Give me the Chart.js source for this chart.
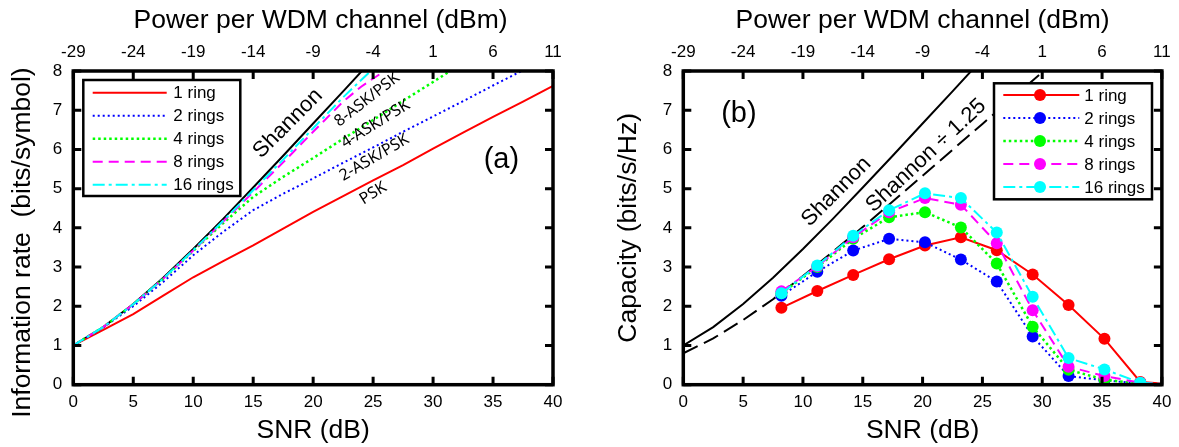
<!DOCTYPE html>
<html>
<head>
<meta charset="utf-8">
<script src="https://cdn.jsdelivr.net/npm/chart.js@4.4.0/dist/chart.umd.min.js"></script>
<style>
  body { margin: 0; background: #fff; width: 1179px; height: 447px; overflow: hidden; position: relative; }
  .panel { position: absolute; top: 0; height: 447px; }
  #panelA { left: 0; width: 595px; }
  #panelB { left: 595px; width: 584px; }
</style>
</head>
<body>
<div class="panel" id="panelA"><canvas id="chartA" width="595" height="447"></canvas></div>
<div class="panel" id="panelB"><canvas id="chartB" width="584" height="447"></canvas></div>
<script>
// --- Ticks ---
const snrTicks = [0, 5, 10, 15, 20, 25, 30, 35, 40];
const powerTicks = [-29, -24, -19, -14, -9, -4, 1, 6, 11];
const rateTicks = [0, 1, 2, 3, 4, 5, 6, 7, 8];
const ringLabels = ['1 ring', '2 rings', '4 rings', '8 rings', '16 rings'];

// --- (a) information rate vs SNR ---
const snrA = [0, 2.5, 5, 7.5, 10, 12.5, 15, 17.5, 20, 22.5, 25, 27.5, 30, 32.5, 35, 37.5, 40];
const shannonA = [1.00, 1.47, 2.06, 2.73, 3.46, 4.23, 5.03, 5.84, 6.66, 7.48, 8.31];
const ring1A = [1.00, 1.40, 1.80, 2.27, 2.74, 3.15, 3.55, 3.98, 4.41, 4.81, 5.21, 5.60, 6.02, 6.43, 6.83, 7.22, 7.62];
const ring2A = [1.00, 1.46, 2.00, 2.62, 3.30, 3.90, 4.45, 4.87, 5.26, 5.66, 6.05, 6.45, 6.84, 7.23, 7.63, 8.02];
const ring4A = [1.00, 1.47, 2.05, 2.70, 3.41, 4.12, 4.79, 5.30, 5.78, 6.27, 6.75, 7.24, 7.72, 8.21];
const snr8A = [0, 2.5, 5, 7.5, 10, 12.5, 15, 17.5, 20, 22.5, 24, 25.8];
const ring8A = [1.00, 1.47, 2.05, 2.70, 3.42, 4.16, 4.91, 5.67, 6.45, 7.22, 7.60, 7.97];
const ring16A = [1.00, 1.47, 2.05, 2.71, 3.43, 4.18, 4.96, 5.74, 6.54, 7.33, 8.06];

// --- (b) capacity vs SNR ---
const snrB = [8.2, 11.2, 14.2, 17.2, 20.2, 23.2, 26.2, 29.2, 32.2, 35.2, 38.2, 41.2];
const shannonB = [1.00, 1.47, 2.06, 2.73, 3.46, 4.23, 5.03, 5.84, 6.66, 7.48, 8.31];
const shannonScaledB = [0.80, 1.18, 1.65, 2.18, 2.77, 3.39, 4.02, 4.67, 5.33, 5.99, 6.65, 7.31, 7.97, 8.63];
const ring1B = [1.96, 2.39, 2.80, 3.20, 3.55, 3.76, 3.43, 2.81, 2.03, 1.17, 0.07, 0.00];
const ring2B = [2.27, 2.88, 3.42, 3.72, 3.63, 3.19, 2.63, 1.23, 0.22, 0.11, 0.03, 0.00];
const ring4B = [2.33, 3.00, 3.72, 4.27, 4.40, 4.01, 3.09, 1.48, 0.38, 0.13, 0.02, 0.00];
const ring8B = [2.38, 3.02, 3.76, 4.40, 4.76, 4.59, 3.61, 1.90, 0.46, 0.22, 0.05, 0.00];
const ring16B = [2.33, 3.04, 3.80, 4.45, 4.88, 4.76, 3.88, 2.24, 0.68, 0.39, 0.05, 0.00];

// --- Texto dentro de las gráficas (posición en unidades de datos) ---
const notesA = [
    { text: 'Shannon', x: 17.9, y: 6.66, angle: -45, font: '22px "Liberation Sans", Arial' },
    { text: '8-ASK/PSK', x: 24.5, y: 7.27, angle: -37.7, font: '16px "Noto Sans"' },
    { text: '4-ASK/PSK', x: 25.2, y: 6.65, angle: -31.7, font: '16px "Noto Sans"' },
    { text: '2-ASK/PSK', x: 25.1, y: 5.79, angle: -30.3, font: '16px "Noto Sans"' },
    { text: 'PSK', x: 25.0, y: 4.88, angle: -32, font: '16px "Noto Sans"' },
    { text: '(a)', x: 35.7, y: 5.74, angle: 0, font: '29px "Liberation Sans", Arial' }
];
const notesB = [
    { text: '(b)', x: 4.65, y: 6.91, angle: 0, font: '29px "Liberation Sans", Arial' },
    { text: 'Shannon', x: 12.8, y: 4.92, angle: -45, font: '22px "Liberation Sans", Arial' },
    { text: 'Shannon \u00f7 1.25', x: 20.3, y: 5.84, angle: -43, font: '22px "Liberation Sans", Arial' }
];

const FONT = '"Liberation Sans", Arial, sans-serif';
Chart.defaults.font.family = FONT;
Chart.defaults.color = '#000';

const ringStyles = [
    { color: '#ff0000', dash: [], width: 2 },
    { color: '#0000ff', dash: [2, 3], width: 2 },
    { color: '#00ff00', dash: [2.5, 3], width: 2.5 },
    { color: '#ff00ff', dash: [10, 6], width: 2 },
    { color: '#00ffff', dash: [12, 4, 3, 4], width: 2 }
];

function pts(xs, ys) {
    return ys.map((y, i) => ({ x: xs[i], y: y }));
}

// marco, marcas hacia adentro, textos y leyenda
function decor(notes, box) {
    return {
        id: 'decor',
        afterDraw(chart) {
            const { ctx, chartArea: a, scales } = chart;
            ctx.save();
            ctx.setLineDash([]);
            ctx.strokeStyle = '#000';
            ctx.lineWidth = 3;
            ctx.lineCap = 'butt';
            ctx.beginPath();
            snrTicks.forEach(v => {
                const px = scales.x.getPixelForValue(v);
                ctx.moveTo(px, a.bottom); ctx.lineTo(px, a.bottom - 8);
            });
            powerTicks.forEach(v => {
                const px = scales.xTop.getPixelForValue(v);
                ctx.moveTo(px, a.top); ctx.lineTo(px, a.top + 8);
            });
            rateTicks.forEach(v => {
                const py = scales.y.getPixelForValue(v);
                ctx.moveTo(a.left, py); ctx.lineTo(a.left + 8, py);
                ctx.moveTo(a.right, py); ctx.lineTo(a.right - 8, py);
            });
            ctx.stroke();
            ctx.lineWidth = 3.5;
            ctx.strokeRect(a.left, a.top, a.right - a.left, a.bottom - a.top);

            ctx.fillStyle = '#000';
            ctx.textAlign = 'center';
            ctx.textBaseline = 'middle';
            notes.forEach(n => {
                ctx.save();
                ctx.translate(scales.x.getPixelForValue(n.x), scales.y.getPixelForValue(n.y));
                ctx.rotate(n.angle * Math.PI / 180);
                ctx.font = n.font;
                ctx.fillText(n.text, 0, 0);
                ctx.restore();
            });

            const left = a.left + box.left;
            const top = a.top + box.top;
            ctx.fillStyle = '#fff';
            ctx.fillRect(left, top, box.width, box.height);
            ctx.strokeStyle = '#000';
            ctx.lineWidth = 2.5;
            ctx.strokeRect(left, top, box.width, box.height);
            ctx.font = '17px ' + FONT;
            ctx.textAlign = 'left';
            ringLabels.forEach((label, i) => {
                const st = ringStyles[i];
                const y = top + box.firstRow + i * box.rowGap;
                ctx.strokeStyle = st.color;
                ctx.lineWidth = st.width;
                ctx.setLineDash(st.dash);
                ctx.beginPath();
                ctx.moveTo(left + box.lineStart, y);
                ctx.lineTo(left + box.lineEnd, y);
                ctx.stroke();
                ctx.setLineDash([]);
                if (box.marker) {
                    ctx.fillStyle = st.color;
                    ctx.beginPath();
                    ctx.arc(left + box.marker, y, 6, 0, Math.PI * 2);
                    ctx.fill();
                }
                ctx.fillStyle = '#000';
                ctx.fillText(label, left + box.textX, y + 1);
            });
            ctx.restore();
        }
    };
}

function axes(topTitle, yTitle, yWidth, yTitlePad) {
    const tickFont = { size: 17, family: FONT };
    const titleFont = { size: 26.5, family: FONT };
    return {
        x: {
            type: 'linear', position: 'bottom', min: 0, max: 40,
            afterBuildTicks: s => { s.ticks = snrTicks.map(v => ({ value: v })); },
            ticks: { font: tickFont, color: '#000', padding: 7.6, maxRotation: 0, callback: v => String(v) },
            grid: { display: false, drawTicks: false },
            border: { display: false },
            title: { display: true, text: 'SNR (dB)', font: titleFont, color: '#000', padding: { top: 0, bottom: 0.5 } },
            afterFit: s => { s.height = 62.3; }
        },
        xTop: {
            type: 'linear', position: 'top', min: -29, max: 11,
            afterBuildTicks: s => { s.ticks = powerTicks.map(v => ({ value: v })); },
            ticks: { font: tickFont, color: '#000', padding: 8.3, maxRotation: 0, callback: v => String(v) },
            grid: { display: false, drawTicks: false },
            border: { display: false },
            title: { display: true, text: topTitle, font: titleFont, color: '#000', padding: { top: 5.2, bottom: 0 } },
            afterFit: s => { s.height = 71; }
        },
        y: {
            type: 'linear', min: 0, max: 8,
            afterBuildTicks: s => { s.ticks = rateTicks.map(v => ({ value: v })); },
            ticks: { font: tickFont, color: '#000', padding: 11, callback: v => String(v) },
            grid: { display: false, drawTicks: false },
            border: { display: false },
            title: { display: true, text: yTitle, font: titleFont, color: '#000', padding: { top: yTitlePad, bottom: 0 } },
            afterFit: s => { s.width = yWidth; }
        }
    };
}

const commonPlugins = { legend: { display: false }, tooltip: { enabled: false } };

// --- Gráfica (a) ---
const datasetsA = [
    { label: 'Shannon', data: pts(snrA, shannonA), borderColor: '#000', borderWidth: 2, order: 6 }
].concat([ring1A, ring2A, ring4A, ring8A, ring16A].map((vals, i) => ({
    label: ringLabels[i],
    data: pts(i === 3 ? snr8A : snrA, vals),
    borderColor: ringStyles[i].color,
    borderWidth: ringStyles[i].width,
    borderDash: ringStyles[i].dash,
    order: 5 - i
})));

new Chart(document.getElementById('chartA'), {
    type: 'line',
    data: { datasets: datasetsA },
    options: {
        responsive: false,
        devicePixelRatio: 1,
        animation: false,
        layout: { padding: { left: 0, right: 42, top: 0, bottom: 0 } },
        elements: { point: { radius: 0 }, line: { tension: 0, fill: false } },
        // espacios extra: el título en el original no está centrado en el eje
        scales: axes('  Power per WDM channel (dBm)', 'Information rate  (bits/symbol)    ', 73.3, 6.5),
        plugins: commonPlugins
    },
    plugins: [decor(notesA, {
        left: 10, top: 9, width: 157, height: 116,
        firstRow: 12.7, rowGap: 23, lineStart: 9.4, lineEnd: 83.4, textX: 90, marker: 0
    })]
});

// --- Gráfica (b) ---
const datasetsB = [
    { label: 'Shannon', data: pts(snrA, shannonB), borderColor: '#000', borderWidth: 2, pointRadius: 0, order: 7 },
    { label: 'Shannon / 1.25', data: pts(snrA, shannonScaledB), borderColor: '#000', borderWidth: 2, borderDash: [16, 7], pointRadius: 0, order: 6 }
].concat([ring1B, ring2B, ring4B, ring8B, ring16B].map((vals, i) => ({
    label: ringLabels[i],
    data: pts(snrB, vals),
    borderColor: ringStyles[i].color,
    borderWidth: ringStyles[i].width,
    borderDash: ringStyles[i].dash,
    pointRadius: 6,
    pointBackgroundColor: ringStyles[i].color,
    pointBorderColor: ringStyles[i].color,
    pointBorderWidth: 0,
    order: 5 - i
})));

new Chart(document.getElementById('chartB'), {
    type: 'line',
    data: { datasets: datasetsB },
    options: {
        responsive: false,
        devicePixelRatio: 1,
        animation: false,
        layout: { padding: { left: 0, right: 12.3, top: 0, bottom: 0 } },
        elements: { line: { tension: 0, fill: false } },
        scales: axes('Power per WDM channel (dBm)', 'Capacity (bits/s/Hz)', 88.3, 17.5),
        plugins: commonPlugins
    },
    plugins: [decor(notesB, {
        left: 310.7, top: 12.3, width: 158, height: 116,
        firstRow: 11.7, rowGap: 23, lineStart: 9.3, lineEnd: 85.3, textX: 90.3, marker: 46
    })]
});
</script>
</body>
</html>
